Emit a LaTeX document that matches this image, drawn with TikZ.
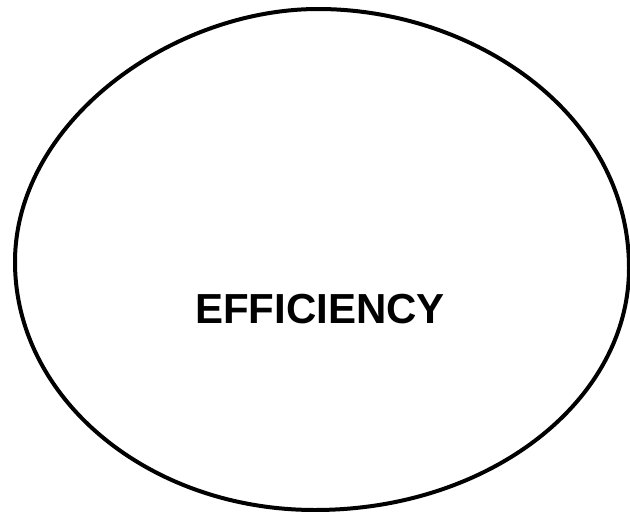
\documentclass[tikz,border=0pt]{standalone}
\usepackage{fontspec}
\setmainfont{Liberation Sans}
\usepackage{tikz}

\begin{document}
\begin{tikzpicture}[x=1pt,y=1pt]

    \useasboundingbox (0,0) rectangle (630,-512);

    \draw[line width=4pt] (318,-9)
      .. controls (473,-9) and (629,-113) .. (629,-268)
      .. controls (629,-402) and (488,-510) .. (315,-510)
      .. controls (149,-510) and (15,-399) .. (15,-262)
      .. controls (15,-122) and (172,-9) .. cycle;

    \node[font=\fontsize{42}{46}\selectfont\bfseries] (efficiency) at (320,-309) {EFFICIENCY};

  \end{tikzpicture}
\end{document}
